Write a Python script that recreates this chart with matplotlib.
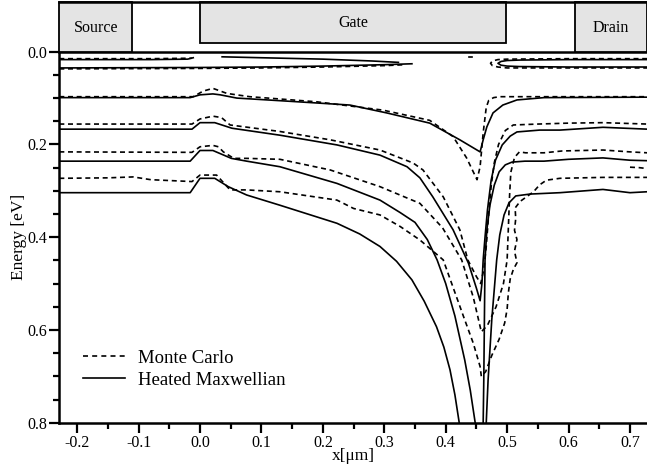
import matplotlib
matplotlib.use("Agg")
import matplotlib.pyplot as plt
from matplotlib.patches import Rectangle
from matplotlib.lines import Line2D
from matplotlib.ticker import MultipleLocator, FormatStrFormatter

plt.rcParams['font.family'] = ['Liberation Serif', 'DejaVu Serif']

# device regions on top of the plot (x in um)
regions = ["Source", "Gate", "Drain"]
region_x0 = [-0.229, 0.0, 0.611]
region_x1 = [-0.11, 0.498, 0.728]

# ---- Heated Maxwellian contours (solid) ----
hm_a_x = [-0.229, -0.08, -0.02, -0.011]
hm_a_y = [0.017, 0.017, 0.016, 0.013]
hm_s_x = [0.036, 0.10, 0.20, 0.28, 0.323]
hm_s_y = [0.011, 0.013, 0.016, 0.020, 0.023]
hm_b_x = [-0.229, 0.0, 0.10, 0.20, 0.30, 0.345]
hm_b_y = [0.035, 0.034, 0.033, 0.031, 0.028, 0.026]
hm_r_x = [0.728, 0.60, 0.52, 0.50, 0.49, 0.485, 0.49, 0.50, 0.52, 0.60, 0.728]
hm_r_y = [0.017, 0.017, 0.018, 0.019, 0.021, 0.025, 0.029, 0.031, 0.032, 0.033, 0.033]
hm_c_x = [-0.229, -0.016, 0.0, 0.021, 0.033, 0.06, 0.135, 0.244, 0.304, 0.374, 0.423,
          0.456, 0.461, 0.467, 0.477, 0.493, 0.516, 0.56, 0.728]
hm_c_y = [0.099, 0.099, 0.093, 0.091, 0.093, 0.100, 0.106, 0.115, 0.132, 0.154, 0.190,
          0.216, 0.190, 0.162, 0.132, 0.115, 0.104, 0.099, 0.098]
hm_d_x = [-0.229, -0.013, 0.0, 0.024, 0.052, 0.130, 0.223, 0.293, 0.337, 0.358, 0.379,
          0.412, 0.437, 0.450, 0.456, 0.459, 0.461, 0.464, 0.468, 0.474, 0.481, 0.492,
          0.505, 0.516, 0.553, 0.586, 0.656, 0.728]
hm_d_y = [0.167, 0.167, 0.153, 0.153, 0.165, 0.180, 0.201, 0.223, 0.248, 0.272, 0.313,
          0.384, 0.456, 0.510, 0.537, 0.500, 0.449, 0.400, 0.341, 0.277, 0.234, 0.201,
          0.182, 0.173, 0.169, 0.169, 0.163, 0.167]
hm_e_x = [-0.229, -0.016, 0.0, 0.021, 0.051, 0.076, 0.13, 0.223, 0.293, 0.326, 0.35,
          0.37, 0.386, 0.40, 0.415, 0.431, 0.44, 0.448]
hm_e_y = [0.236, 0.236, 0.213, 0.213, 0.230, 0.236, 0.248, 0.284, 0.320, 0.347, 0.368,
          0.405, 0.449, 0.500, 0.570, 0.665, 0.730, 0.800]
hm_e2_x = [0.461, 0.462, 0.463, 0.464, 0.467, 0.472, 0.479, 0.487, 0.497, 0.508, 0.529,
           0.56, 0.60, 0.656, 0.70, 0.728]
hm_e2_y = [0.800, 0.708, 0.578, 0.449, 0.384, 0.331, 0.288, 0.259, 0.244, 0.238, 0.236,
           0.236, 0.232, 0.229, 0.234, 0.235]
hm_f_x = [-0.229, -0.016, 0.0, 0.024, 0.046, 0.076, 0.13, 0.223, 0.26, 0.293, 0.32,
          0.345, 0.365, 0.385, 0.397, 0.407, 0.415, 0.422]
hm_f_y = [0.304, 0.304, 0.273, 0.273, 0.291, 0.309, 0.331, 0.370, 0.393, 0.420, 0.452,
          0.492, 0.538, 0.593, 0.637, 0.686, 0.740, 0.800]
hm_f2_x = [0.466, 0.469, 0.475, 0.483, 0.488, 0.495, 0.503, 0.514, 0.537, 0.586, 0.656,
           0.70, 0.728]
hm_f2_y = [0.800, 0.708, 0.578, 0.449, 0.395, 0.352, 0.326, 0.311, 0.307, 0.304, 0.297,
           0.304, 0.302]

# ---- Monte Carlo contours (dashed) ----
mc_a_x = [-0.229, -0.08, -0.013]
mc_a_y = [0.015, 0.015, 0.014]
mc_b_x = [-0.229, 0.0, 0.10, 0.20, 0.30, 0.335]
mc_b_y = [0.037, 0.036, 0.035, 0.033, 0.030, 0.028]
mc_r_x = [0.728, 0.60, 0.50, 0.485, 0.476, 0.473, 0.476, 0.485, 0.50, 0.60, 0.728]
mc_r_y = [0.015, 0.015, 0.016, 0.017, 0.020, 0.025, 0.030, 0.033, 0.035, 0.035, 0.035]
mc_c_x = [-0.229, -0.011, 0.005, 0.021, 0.044, 0.081, 0.19, 0.298, 0.374, 0.412, 0.434,
          0.451, 0.456, 0.461, 0.466, 0.47, 0.478, 0.488, 0.728]
mc_c_y = [0.097, 0.097, 0.085, 0.079, 0.090, 0.097, 0.108, 0.126, 0.148, 0.183, 0.229,
          0.276, 0.248, 0.175, 0.120, 0.105, 0.099, 0.097, 0.097]
mc_d_x = [-0.229, -0.013, 0.0, 0.021, 0.035, 0.049, 0.130, 0.212, 0.293, 0.347, 0.363,
          0.396, 0.423, 0.436, 0.450, 0.457, 0.462, 0.466, 0.470, 0.474, 0.479, 0.486,
          0.497, 0.510, 0.55, 0.60, 0.656, 0.728]
mc_d_y = [0.156, 0.156, 0.145, 0.139, 0.142, 0.158, 0.172, 0.190, 0.212, 0.240, 0.255,
          0.313, 0.384, 0.449, 0.485, 0.500, 0.470, 0.420, 0.350, 0.290, 0.240, 0.200,
          0.170, 0.158, 0.156, 0.154, 0.153, 0.156]
mc_e_x = [-0.229, -0.013, 0.0, 0.021, 0.03, 0.038, 0.055, 0.076, 0.13, 0.212, 0.293,
          0.358, 0.395, 0.426, 0.445, 0.458, 0.468, 0.482, 0.494, 0.500, 0.502, 0.504,
          0.506, 0.512, 0.52, 0.53, 0.56, 0.59, 0.656, 0.70, 0.728]
mc_e_y = [0.216, 0.217, 0.205, 0.202, 0.205, 0.216, 0.230, 0.230, 0.232, 0.255, 0.291,
          0.327, 0.380, 0.449, 0.530, 0.604, 0.590, 0.550, 0.500, 0.449, 0.380, 0.310,
          0.260, 0.228, 0.216, 0.218, 0.218, 0.214, 0.212, 0.216, 0.218]
mc_f_x = [-0.229, -0.15, -0.109, -0.08, -0.013, 0.0, 0.027, 0.049, 0.076, 0.13, 0.223,
          0.25, 0.293, 0.326, 0.358, 0.396, 0.429, 0.445, 0.456, 0.458, 0.465, 0.475,
          0.487, 0.496, 0.500, 0.502, 0.505, 0.510, 0.516, 0.512, 0.516, 0.512, 0.514,
          0.513, 0.521, 0.543, 0.553, 0.564, 0.586, 0.656, 0.728]
mc_f_y = [0.273, 0.272, 0.270, 0.276, 0.280, 0.266, 0.266, 0.298, 0.298, 0.302, 0.320,
          0.338, 0.352, 0.377, 0.406, 0.449, 0.571, 0.629, 0.679, 0.700, 0.690, 0.655,
          0.620, 0.585, 0.555, 0.520, 0.490, 0.470, 0.455, 0.430, 0.405, 0.385, 0.360,
          0.337, 0.323, 0.302, 0.287, 0.277, 0.273, 0.271, 0.271]
mc_g_x = [0.70, 0.715, 0.728]
mc_g_y = [0.249, 0.250, 0.252]

hm_curves = [(hm_a_x, hm_a_y), (hm_s_x, hm_s_y), (hm_b_x, hm_b_y), (hm_r_x, hm_r_y),
             (hm_c_x, hm_c_y), (hm_d_x, hm_d_y), (hm_e_x, hm_e_y), (hm_e2_x, hm_e2_y),
             (hm_f_x, hm_f_y), (hm_f2_x, hm_f2_y)]
mc_curves = [(mc_a_x, mc_a_y), (mc_b_x, mc_b_y), (mc_r_x, mc_r_y), (mc_c_x, mc_c_y),
             (mc_d_x, mc_d_y), (mc_e_x, mc_e_y), (mc_f_x, mc_f_y), (mc_g_x, mc_g_y)]

dash = (0, (3, 2.2))
lw = 1.2

fig = plt.figure(figsize=(6.47, 4.68), dpi=100)
ax = fig.add_axes([0.0917, 0.0968, 0.9083, 0.7927])

for cx, cy in mc_curves:
    ax.plot(cx, cy, color='black', lw=lw, linestyle=dash)
for cx, cy in hm_curves:
    ax.plot(cx, cy, color='black', lw=lw, linestyle='-')
ax.plot([0.438, 0.443], [0.012, 0.012], color='black', lw=lw)

ax.set_xlim(-0.229, 0.7277)
ax.set_ylim(0.8, 0.0)
ax.spines['right'].set_visible(False)
for s in ['left', 'bottom', 'top']:
    ax.spines[s].set_linewidth(1.8)

ax.xaxis.set_major_locator(MultipleLocator(0.1))
ax.xaxis.set_minor_locator(MultipleLocator(0.05))
ax.yaxis.set_major_locator(MultipleLocator(0.2))
ax.yaxis.set_minor_locator(MultipleLocator(0.05))
ax.xaxis.set_major_formatter(FormatStrFormatter('%.1f'))
ax.yaxis.set_major_formatter(FormatStrFormatter('%.1f'))
ax.tick_params(which='major', direction='out', length=7, width=1.6, labelsize=11.5, pad=2)
ax.tick_params(which='minor', direction='out', length=4, width=1.6)
ax.tick_params(top=False, right=False, which='both')

ax.set_xlabel('x[μm]', fontsize=12.5, labelpad=-2)
ax.set_ylabel('Energy [eV]', fontsize=12.5, labelpad=0)

handles = [Line2D([], [], color='black', lw=lw, linestyle=(0, (3, 2.5))),
           Line2D([], [], color='black', lw=lw)]
ax.legend(handles, ['Monte Carlo', 'Heated Maxwellian'], loc='upper left',
          bbox_to_anchor=(0.040, 0.197), frameon=False, fontsize=13.5,
          handlelength=2.24, handletextpad=0.7, labelspacing=0.25,
          borderpad=0, borderaxespad=0)

# device strip above the plot
axt = fig.add_axes([0.0917, 0.8895, 0.9083, 0.1062])
axt.set_xlim(-0.229, 0.7277)
axt.set_ylim(0, 1)
axt.axis('off')
box_y0 = [0.0, 0.175, 0.0]
for name, x0, x1, y0 in zip(regions, region_x0, region_x1, box_y0):
    axt.add_patch(Rectangle((x0, y0), x1 - x0, 1 - y0, facecolor='#e4e4e4',
                            edgecolor='black', lw=1.3, clip_on=False))
axt.plot([-0.229, 0.7277], [1, 1], color='black', lw=1.8, clip_on=False)
axt.text(-0.169, 0.48, 'Source', ha='center', va='center', fontsize=11.5)
axt.text(0.249, 0.58, 'Gate', ha='center', va='center', fontsize=11.5)
axt.text(0.669, 0.48, 'Drain', ha='center', va='center', fontsize=11.5)

fig.savefig('out.png', dpi=100)
